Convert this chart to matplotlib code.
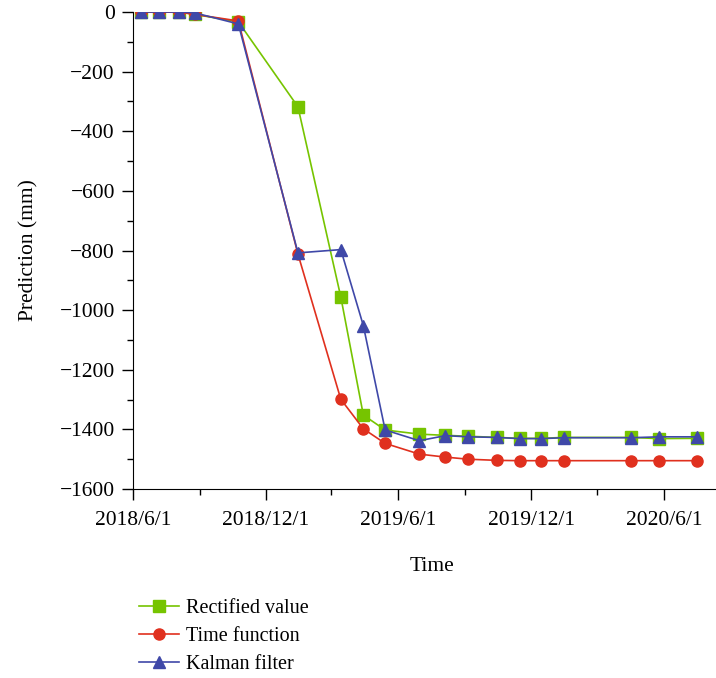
import numpy as np
import pandas as pd
import matplotlib
matplotlib.use('Agg')
import matplotlib.pyplot as plt
import matplotlib.dates as mdates
from matplotlib.ticker import FuncFormatter, MultipleLocator

plt.rcParams['font.family'] = ['Liberation Serif', 'DejaVu Serif']
plt.rcParams['font.size'] = 15.5

# monitoring dates
dates = pd.to_datetime([
    '2018-06-12', '2018-07-07', '2018-08-03', '2018-08-25', '2018-10-24',
    '2019-01-14', '2019-03-14', '2019-04-14', '2019-05-14', '2019-06-30',
    '2019-08-05', '2019-09-05', '2019-10-15', '2019-11-15', '2019-12-15',
    '2020-01-15', '2020-04-16', '2020-05-25', '2020-07-16'])

# settlement predictions (mm)
rectified = [0, 0, 0, -8, -33, -318, -956, -1352, -1402, -1416,
             -1420, -1423, -1427, -1430, -1430, -1427, -1427, -1431, -1430]
time_func = [0, 0, 0, -8, -30, -812, -1299, -1398, -1447, -1483,
             -1493, -1500, -1504, -1505, -1505, -1505, -1505, -1505, -1505]
kalman = [0, 0, 0, -3, -40, -808, -797, -1052, -1402, -1438,
          -1421, -1425, -1427, -1431, -1431, -1428, -1428, -1425, -1425]

fig = plt.figure(figsize=(7.16, 6.78), dpi=100)
ax = fig.add_axes([133/716, 1 - 489/678, 598/716, 477/678])

ax.plot(dates, rectified, color='#76c400', marker='s', ms=8, lw=1.2,
        label='Rectified value', zorder=3)
ax.plot(dates, time_func, color='#e0301e', marker='o', ms=8, lw=1.2,
        label='Time function', zorder=4)
ax.plot(dates, kalman, color='#3f48a8', marker='^', ms=9, lw=1.2,
        label='Kalman filter', zorder=5)

ax.set_xlim(pd.Timestamp('2018-06-01'), pd.Timestamp('2020-09-01'))
ax.set_ylim(-1600, 0)

ax.xaxis.set_major_locator(mdates.MonthLocator(bymonth=[6, 12]))
ax.xaxis.set_minor_locator(mdates.MonthLocator(bymonth=[3, 9]))
ax.xaxis.set_major_formatter(FuncFormatter(
    lambda v, p: '{0.year}/{0.month}/{0.day}'.format(mdates.num2date(v))))
ax.yaxis.set_major_locator(MultipleLocator(200))
ax.yaxis.set_minor_locator(MultipleLocator(100))

for s in ['top', 'right']:
    ax.spines[s].set_visible(False)
ax.tick_params(which='major', direction='out', length=8, width=1)
ax.tick_params(which='minor', direction='out', length=4.5, width=1)
ax.tick_params(axis='x', pad=8)
ax.tick_params(axis='y', pad=5)
ax.set_clip_on(False)

ax.set_xlabel('Time', labelpad=19)
ax.set_ylabel('Prediction (mm)', labelpad=15)

fig.legend(loc='upper left', bbox_to_anchor=(131/716, 1 - 591/678),
           frameon=False, handlelength=2.0, labelspacing=0.45,
           borderaxespad=0, handletextpad=0.35, fontsize=14.5)

fig.savefig('out.png', dpi=100)
